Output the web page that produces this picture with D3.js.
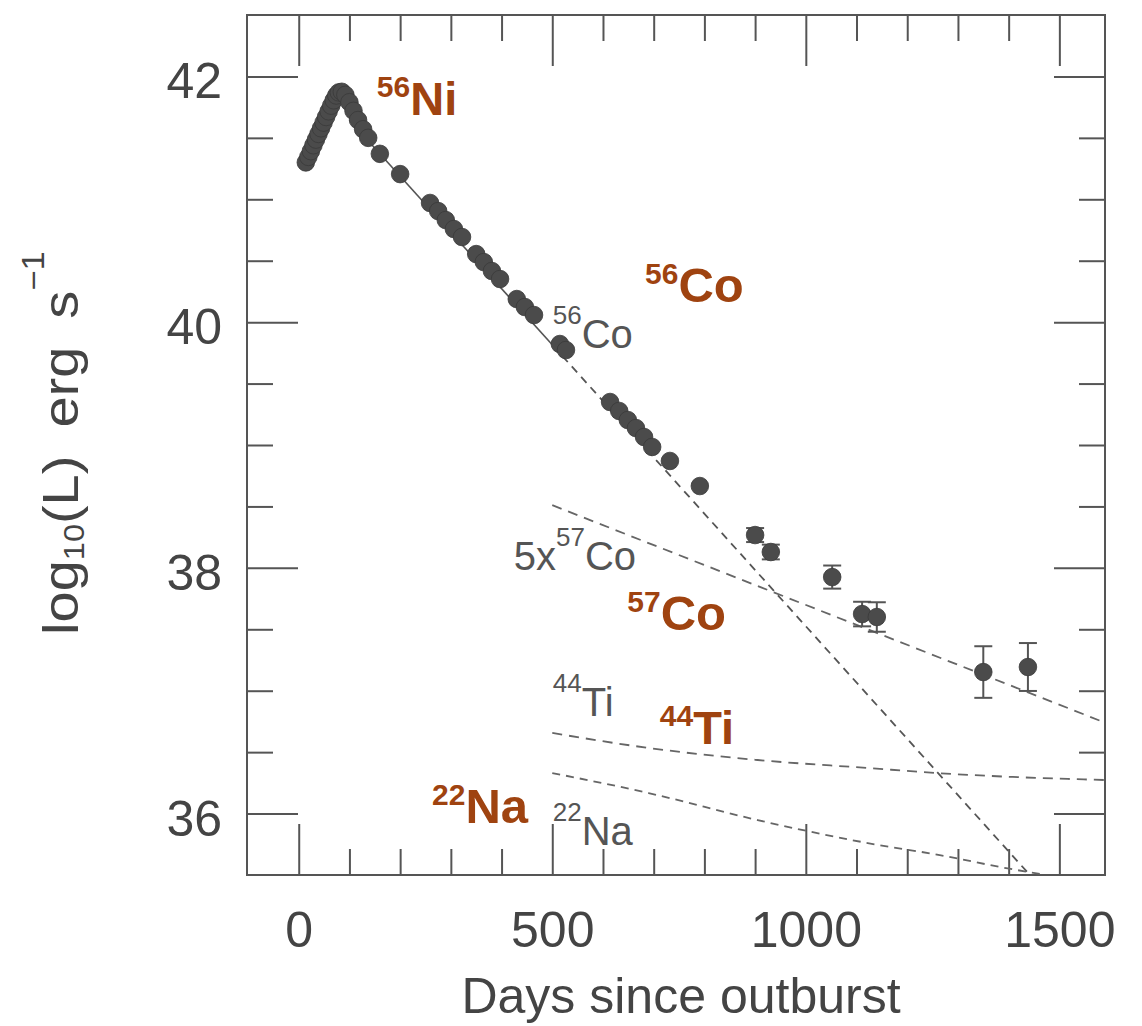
<!DOCTYPE html>
<html>
<head>
<meta charset="utf-8">
<script src="https://cdn.jsdelivr.net/npm/d3@7"></script>
<style>
  html, body { margin: 0; padding: 0; background: #fff; }
  svg { display: block; }
  text { font-family: "Liberation Sans", Arial, Helvetica, sans-serif; }
</style>
</head>
<body>
<svg id="chart" width="1142" height="1026"></svg>
<script>
// ---------------- data ----------------
// observed bolometric light curve (days since outburst, log10 L)
const obsDay = [14, 19, 24, 29, 34, 39, 44, 49, 54, 59, 64, 69, 74, 79, 85, 92, 100, 108, 117, 127, 137,
                160, 200, 259, 275, 290, 306, 322, 350, 365, 381, 397, 430, 446, 464, 515, 527,
                614, 632, 649, 665, 681, 697, 732, 791, 900, 931, 1052, 1111, 1140, 1350, 1438];
const obsLogL = [41.30, 41.345, 41.392, 41.44, 41.486, 41.532, 41.578, 41.624, 41.67, 41.716, 41.762, 41.806, 41.845, 41.87, 41.875, 41.85, 41.79, 41.72, 41.645, 41.57, 41.50,
                 41.37, 41.205, 40.970, 40.904, 40.831, 40.758, 40.693, 40.554, 40.489, 40.416, 40.351, 40.188, 40.123, 40.058, 39.822, 39.773,
                 39.350, 39.277, 39.203, 39.138, 39.065, 38.984, 38.870, 38.666, 38.267, 38.129, 37.925, 37.624, 37.600, 37.152, 37.193];
const obsErr = [0, 0, 0, 0, 0, 0, 0, 0, 0, 0, 0, 0, 0, 0, 0, 0, 0, 0, 0, 0, 0,
                0, 0, 0, 0, 0, 0, 0, 0, 0, 0, 0, 0, 0, 0, 0, 0,
                0, 0, 0, 0, 0, 0, 0, 0, 0.057, 0.06, 0.094, 0.10, 0.12, 0.21, 0.195];

// model curves (days, log10 L)
const co56Day = [100, 520, 1460];
const co56Val = [41.646, 39.724, 35.417];
const co57Day = [500, 1590];
const co57Val = [38.51, 36.74];
const ti44Day = [500, 690, 905, 1122, 1258, 1408, 1590];
const ti44Val = [36.656, 36.534, 36.436, 36.371, 36.330, 36.298, 36.273];
const na22Day = [500, 690, 905, 1122, 1264, 1395, 1462];
const na22Val = [36.33, 36.167, 35.947, 35.76, 35.662, 35.556, 35.508];

// axis ticks
const xMajorTicks = [0, 500, 1000, 1500];
const xMinorTicks = [100, 200, 300, 400, 600, 700, 800, 900, 1100, 1200, 1300, 1400];
const yMajorTicks = [36, 38, 40, 42];
const yMinorTicks = [36.5, 37, 37.5, 38.5, 39, 39.5, 40.5, 41, 41.5];
const xLabel = "Days since outburst";

// ---------------- chart ----------------
const svg = d3.select("#chart");
const L = 247, R = 1105, T = 15, B = 875;
const x = d3.scaleLinear().domain([-102, 1590]).range([L, R]);
const y = d3.scaleLinear().domain([35.5, 42.5]).range([B, T]);

const axisColor = "#555";
const textColor = "#444";

svg.append("defs").append("clipPath").attr("id", "clip")
  .append("rect").attr("x", L).attr("y", T).attr("width", R - L).attr("height", B - T);

// ticks on all four sides, pointing inward
function tickAxis(gen, vals, size, transform, labels) {
  const g = svg.append("g").attr("transform", transform)
    .call(gen.tickValues(vals).tickSize(size).tickPadding(labels ? 36 : 0)
             .tickFormat(labels ? d3.format("d") : () => ""));
  g.select(".domain").remove();
  g.selectAll(".tick line").attr("stroke", axisColor).attr("stroke-width", 2);
  g.selectAll(".tick text").attr("fill", textColor).attr("font-size", 50)
    .attr("font-family", "Liberation Sans, Arial, sans-serif");
  return g;
}
tickAxis(d3.axisBottom(x), xMajorTicks, -51, `translate(0,${B})`, true);
tickAxis(d3.axisBottom(x), xMinorTicks, -26, `translate(0,${B})`, false);
tickAxis(d3.axisTop(x), xMajorTicks, -51, `translate(0,${T})`, false);
tickAxis(d3.axisTop(x), xMinorTicks, -26, `translate(0,${T})`, false);
const yl = tickAxis(d3.axisLeft(y), yMajorTicks, -51, `translate(${L},0)`, true);
yl.selectAll(".tick text").attr("x", -25).attr("dy", "0.43em");
tickAxis(d3.axisLeft(y), yMinorTicks, -26, `translate(${L},0)`, false);
tickAxis(d3.axisRight(y), yMajorTicks, -51, `translate(${R},0)`, false);
tickAxis(d3.axisRight(y), yMinorTicks, -26, `translate(${R},0)`, false);

// frame
svg.append("rect").attr("x", L).attr("y", T).attr("width", R - L).attr("height", B - T)
  .attr("fill", "none").attr("stroke", axisColor).attr("stroke-width", 2);

// model lines
const plot = svg.append("g").attr("clip-path", "url(#clip)");
const line = d3.line().x(d => x(d[0])).y(d => y(d[1]));
const lineSmooth = d3.line().x(d => x(d[0])).y(d => y(d[1])).curve(d3.curveMonotoneX);
const zip = (a, b) => a.map((v, i) => [v, b[i]]);

const co56 = zip(co56Day, co56Val);
plot.append("path").attr("d", line(co56.slice(0, 2)))
  .attr("fill", "none").attr("stroke", "#555").attr("stroke-width", 1.6);
plot.append("path").attr("d", line(co56.slice(1)))
  .attr("fill", "none").attr("stroke", "#555").attr("stroke-width", 1.8).attr("stroke-dasharray", "8,6");
plot.append("path").attr("d", line(zip(co57Day, co57Val)))
  .attr("fill", "none").attr("stroke", "#666").attr("stroke-width", 1.8).attr("stroke-dasharray", "10,7");
plot.append("path").attr("d", lineSmooth(zip(ti44Day, ti44Val)))
  .attr("fill", "none").attr("stroke", "#666").attr("stroke-width", 1.8).attr("stroke-dasharray", "10,7");
plot.append("path").attr("d", lineSmooth(zip(na22Day, na22Val)))
  .attr("fill", "none").attr("stroke", "#666").attr("stroke-width", 1.8).attr("stroke-dasharray", "8,6");

// error bars
const obs = obsDay.map((d, i) => ({ d, v: obsLogL[i], e: obsErr[i] }));
const eb = plot.append("g").attr("stroke", "#555").attr("stroke-width", 2);
obs.filter(o => o.e > 0).forEach(o => {
  eb.append("line").attr("x1", x(o.d)).attr("x2", x(o.d)).attr("y1", y(o.v - o.e)).attr("y2", y(o.v + o.e));
  [o.v - o.e, o.v + o.e].forEach(v => {
    eb.append("line").attr("x1", x(o.d) - 9).attr("x2", x(o.d) + 9).attr("y1", y(v)).attr("y2", y(v));
  });
});

// data points
plot.append("g").selectAll("circle").data(obs).join("circle")
  .attr("cx", o => x(o.d)).attr("cy", o => y(o.v)).attr("r", 8.8)
  .attr("fill", "#4b4b4b").attr("stroke", "#3a3a3a").attr("stroke-width", 0.8);

// in-plot isotope labels
function isoLabel(px, py, pre, sup, main, size, color, weight, supSize, supRise, family) {
  const t = svg.append("text").attr("x", px).attr("y", py).attr("fill", color)
    .attr("font-size", size).attr("font-weight", weight);
  if (family) t.attr("font-family", family);
  if (pre) t.append("tspan").text(pre);
  t.append("tspan").attr("font-size", supSize).attr("dy", -supRise).text(sup);
  t.append("tspan").attr("dy", supRise).text(main);
  return t;
}
const grayC = "#555";
const lightFam = "'Open Sans', 'Liberation Sans', Arial, sans-serif";
isoLabel(x(501), y(39.789), "", "56", "Co", 40, grayC, 300, 26, 24, lightFam);
isoLabel(x(424), y(37.985), "5x", "57", "Co", 40, grayC, 300, 26, 24, lightFam);
isoLabel(x(501), y(36.794), "", "44", "Ti", 40, grayC, 300, 26, 24, lightFam);
isoLabel(x(501), y(35.745), "", "22", "Na", 40, grayC, 300, 26, 24, lightFam);

// orange bold labels
const orange = "#9f4310";
isoLabel(x(154), y(41.686), "", "56", "Ni", 47, orange, 700, 30, 18);
isoLabel(x(683), y(40.164), "", "56", "Co", 49, orange, 700, 30, 18);
isoLabel(x(648), y(37.491), "", "57", "Co", 49, orange, 700, 30, 18);
isoLabel(x(712), y(36.570), "", "44", "Ti", 47, orange, 700, 30, 18);
isoLabel(x(263), y(35.927), "", "22", "Na", 49, orange, 700, 30, 18);

// axis titles
svg.append("text").attr("x", 681).attr("y", 1013).attr("text-anchor", "middle")
  .attr("fill", textColor).attr("font-size", 50).text(xLabel);

const yt = svg.append("text").attr("transform", "translate(78,443) rotate(-90) scale(1.12,1)")
  .attr("text-anchor", "middle").attr("fill", textColor).attr("font-size", 50);
yt.append("tspan").text("log");
yt.append("tspan").attr("font-size", 29).attr("dy", 6).text("10");
yt.append("tspan").attr("dy", -6).text("(L)\u2002erg\u2002s");
yt.append("tspan").attr("font-size", 31).attr("dy", -34).text("\u22121");
</script>
</body>
</html>
